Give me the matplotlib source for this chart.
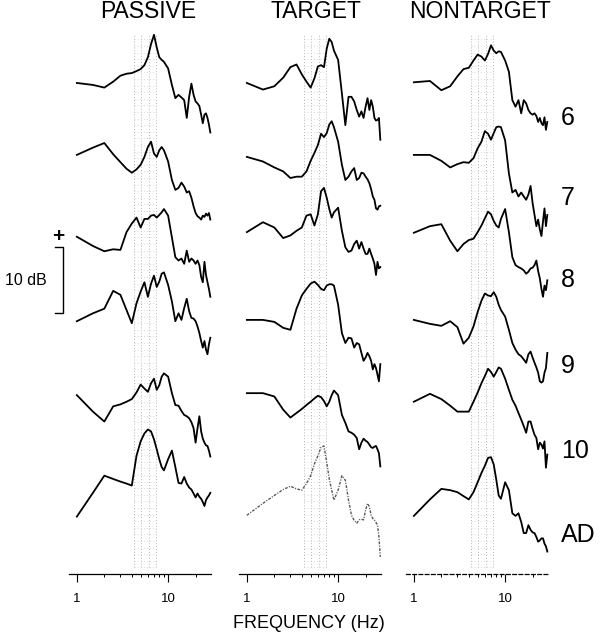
# --- spectra panels: passive / target / nontarget ---
import matplotlib.pyplot as plt
import matplotlib.transforms as mtransforms
from matplotlib.ticker import FixedLocator, FixedFormatter, NullFormatter
import numpy as np

plt.rcParams['font.family'] = ['Liberation Sans', 'DejaVu Sans']

# frequency grid (Hz)
freqs = [1, 1.5, 2, 2.5, 3, 3.5, 4, 4.5, 5, 5.5, 6, 6.5, 7, 7.5, 8, 8.5, 9,
         10, 11, 12, 13, 14, 15, 16, 17, 18, 19, 20, 21, 22, 23, 24, 25, 26, 27, 28, 29]

# relative power (dB)
pas_6 = [5.3, 5.0, 4.6, 5.5, 6.4, 6.7, 6.8, 7.1, 7.4, 8.0, 9.2, 11.2, 12.6, 10.7, 9.2, 8.8, 8.5,
         7.5, 5.0, 3.0, 3.5, 3.1, 2.7, 0.0, 3.2, 5.2, 3.5, 2.5, 2.2, 1.8, 0.5, -0.8, 0.5, 0.7, 0.0, -1.0, -2.2]
pas_7 = [6.5, 7.6, 8.3, 6.6, 5.4, 4.4, 3.8, 4.3, 5.0, 6.2, 7.7, 8.5, 6.7, 6.2, 7.2, 7.7, 7.2,
         5.5, 2.7, 1.2, 1.5, 2.3, 1.7, 0.8, 1.0, 0.0, -1.3, -2.3, -2.8, -3.0, -3.3, -2.7, -2.9, -2.4, -2.7, -2.3, -3.3]
pas_8 = [6.6, 5.2, 4.4, 4.7, 4.6, 7.3, 8.6, 9.5, 8.0, 9.3, 9.3, 9.8, 9.9, 9.5, 9.9, 10.3, 10.8,
         9.8, 6.5, 3.5, 3.0, 3.3, 2.5, 4.5, 2.8, 3.3, 3.0, 2.5, 3.0, 2.3, 0.5, -0.3, 2.8, 0.8, -0.3, -1.3, -2.5]
pas_9 = [6.8, 8.0, 8.7, 11.4, 10.8, 8.5, 6.5, 9.5, 11.3, 12.7, 10.5, 12.5, 13.7, 12.0, 12.8, 14.0, 14.2,
         12.3, 9.8, 6.8, 8.0, 7.0, 8.8, 10.2, 8.3, 7.3, 7.2, 6.8, 6.0, 5.0, 3.8, 2.8, 3.8, 2.5, 1.8, 3.3, 4.3]
pas_10 = [8.5, 6.0, 4.5, 6.8, 7.1, 7.5, 7.9, 8.9, 10.1, 9.5, 9.0, 10.3, 11.0, 9.3, 10.0, 11.3, 11.8,
          11.3, 8.8, 7.0, 6.9, 6.1, 5.5, 5.3, 5.0, 4.4, 3.5, 1.3, 3.5, 5.3, 3.0, 1.9, 1.3, 0.9, 0.8, 0.1, -0.8]
pas_ad = [2.8, 6.4, 9.0, 8.5, 8.1, 7.8, 7.5, 12.0, 14.2, 15.4, 16.0, 15.7, 14.5, 13.0, 11.5, 10.3, 9.8,
          11.5, 12.8, 10.3, 7.9, 7.8, 8.8, 7.8, 7.2, 6.9, 6.3, 5.7, 6.3, 5.8, 5.5, 5.0, 4.4, 5.3, 5.7, 6.0, 6.4]

tgt_6 = [5.3, 4.3, 4.8, 6.1, 7.7, 8.1, 6.6, 5.5, 4.6, 6.0, 7.8, 8.0, 7.7, 10.5, 12.0, 11.5, 10.2,
         8.8, 3.7, -1.1, 3.2, 3.2, 2.5, 1.2, 0.2, 1.0, 0.0, 1.7, 3.0, 1.2, 2.7, 1.7, 0.0, -0.4, -0.3, 0.0, -3.3]
tgt_7 = [6.2, 5.5, 4.6, 4.0, 3.0, 3.2, 3.2, 4.0, 5.6, 6.8, 8.0, 9.7, 9.2, 9.8, 11.1, 11.6, 10.7,
         8.5, 5.0, 2.7, 3.2, 4.0, 4.5, 2.7, 3.0, 3.8, 3.7, 3.2, 2.8, 2.2, 1.3, 0.2, -0.3, -1.6, -1.8, -1.3, -1.2]
tgt_8 = [7.3, 8.8, 8.0, 6.4, 6.8, 7.5, 8.0, 9.8, 10.0, 8.3, 10.0, 13.5, 14.0, 12.5, 10.8, 9.5, 10.3,
         11.0, 7.5, 5.0, 4.3, 4.5, 5.5, 6.0, 4.8, 5.8, 4.8, 4.0, 4.0, 4.8, 4.0, 3.3, 2.5, 0.8, 2.8, 1.8, 2.0]
tgt_9 = [7.0, 7.0, 6.7, 5.8, 5.5, 8.7, 10.7, 11.7, 12.5, 12.8, 12.3, 11.7, 11.5, 12.2, 12.4, 12.4, 12.2,
         9.3, 5.0, 3.5, 4.3, 4.2, 2.8, 3.5, 3.3, 2.0, 0.8, 1.3, 2.0, 1.5, 0.8, -0.5, 0.3, -0.3, -1.3, -2.3, 0.3]
tgt_10 = [8.8, 8.8, 8.3, 6.3, 5.1, 5.8, 6.4, 7.0, 7.5, 8.0, 8.4, 8.2, 7.6, 6.8, 7.5, 8.5, 9.2,
          8.5, 5.5, 4.3, 3.0, 2.8, 2.5, 2.0, 0.3, 1.3, 1.9, 1.6, 1.4, 1.0, 0.6, 0.5, 0.7, 0.8, 0.3, -0.3, -2.3]
tgt_ad = [3.0, 4.8, 6.0, 6.9, 7.4, 7.0, 6.8, 7.8, 9.0, 10.8, 12.0, 13.3, 13.5, 11.0, 8.5, 6.8, 5.3,
          6.8, 9.0, 8.3, 5.3, 3.0, 2.2, 1.8, 2.3, 2.4, 2.3, 3.8, 4.8, 4.3, 3.0, 2.5, 2.3, 1.9, 1.5, -0.3, -3.3]

nt_6 = [5.4, 5.6, 4.2, 4.8, 6.3, 7.4, 7.6, 8.7, 9.6, 9.3, 8.7, 9.7, 11.0, 10.2, 9.8, 10.1, 10.0,
        8.7, 7.0, 2.7, 1.7, 2.7, 0.7, 2.7, 2.2, 1.2, 0.7, 0.5, 0.7, 0.3, -0.6, 0.0, -0.8, -1.1, 0.1, -1.8, -0.6]
nt_7 = [6.5, 6.5, 5.6, 4.6, 5.1, 5.4, 5.3, 6.0, 7.5, 8.5, 10.1, 9.7, 8.8, 9.8, 10.7, 10.8, 10.7,
        8.7, 3.7, 0.8, 1.2, 0.2, 0.8, 0.2, -0.3, 0.5, 1.8, -0.8, -2.6, -4.3, -3.3, -4.8, -5.8, -3.6, -1.6, -4.3, -2.6]
nt_8 = [7.2, 8.2, 8.5, 6.0, 4.4, 5.5, 6.1, 6.3, 7.3, 8.3, 9.4, 10.4, 10.0, 9.0, 8.3, 8.0, 9.3,
        10.8, 7.3, 3.5, 2.3, 2.0, 1.8, 1.5, 1.0, 1.3, 1.8, 1.9, 2.3, 3.0, 1.4, 0.3, -1.3, -2.5, -0.8, -1.5, 0.0]
nt_9 = [7.0, 6.4, 6.1, 6.8, 5.9, 3.4, 4.3, 6.0, 8.2, 9.9, 11.0, 10.7, 10.6, 11.2, 10.5, 9.3, 8.5,
        7.5, 5.5, 3.5, 2.5, 1.8, 1.5, 1.0, 0.5, 1.8, 2.2, 1.3, 0.5, -0.2, -1.0, -2.3, -2.5, -2.3, -1.0, -0.3, 2.0]
nt_10 = [7.5, 8.7, 7.9, 6.9, 6.0, 6.0, 6.0, 7.5, 8.9, 10.3, 11.4, 12.5, 12.0, 11.3, 12.0, 12.7, 12.5,
         11.0, 9.3, 7.8, 6.9, 5.8, 4.8, 3.8, 2.8, 4.5, 4.5, 3.4, 2.5, 2.0, 0.3, 1.3, 1.0, 0.4, 1.5, -2.5, -0.5]
nt_ad = [2.9, 5.4, 7.0, 6.8, 6.5, 5.9, 5.4, 6.5, 8.0, 9.4, 10.5, 11.7, 11.8, 10.7, 8.4, 6.0, 5.5,
         8.0, 6.8, 3.3, 2.9, 3.3, 2.0, 0.3, 0.3, 1.5, 0.8, 0.4, 0.3, -0.3, -1.0, -0.8, -0.5, -0.5, -1.3, -1.7, -2.5]

titles = ['PASSIVE', 'TARGET', 'NONTARGET']
row_labels = ['6', '7', '8', '9', '10', 'AD']
band_lines = [4.2, 5.1, 6.1, 7.4]   # dotted band (Hz)

columns = [[pas_6, pas_7, pas_8, pas_9, pas_10, pas_ad],
           [tgt_6, tgt_7, tgt_8, tgt_9, tgt_10, tgt_ad],
           [nt_6, nt_7, nt_8, nt_9, nt_10, nt_ad]]

# layout (pixels of a 600x643 figure, 6.6 px per dB)
W, H = 600, 643
px_db = 6.6
offsets = [69.1, 57.0, 44.5, 31.5, 18.6, 5.9]
lefts = [69, 239, 406]
ax_w = 142
ax_bottom, ax_top = 574, 30

fig = plt.figure(figsize=(W / 100, H / 100), dpi=100)
axes = []
for c in range(3):
    ax = fig.add_axes([lefts[c] / W, (H - ax_bottom) / H, ax_w / W, (ax_bottom - ax_top) / H])
    ax.set_xscale('log')
    ax.set_xlim(0.82, 29.5)
    ax.set_ylim(0, (ax_bottom - ax_top) / px_db)
    ax.patch.set_alpha(0)
    for s in ['left', 'right', 'top']:
        ax.spines[s].set_visible(False)
    ax.yaxis.set_visible(False)
    ax.spines['bottom'].set_linewidth(0.9)
    ax.xaxis.set_major_locator(FixedLocator([1, 10]))
    ax.xaxis.set_major_formatter(FixedFormatter(['1', '10']))
    ax.xaxis.set_minor_locator(FixedLocator([2, 3, 4, 5, 6, 7, 8, 9, 20]))
    ax.xaxis.set_minor_formatter(NullFormatter())
    ax.tick_params(axis='x', which='major', direction='out', length=6, width=0.8,
                   labelsize=9.5, pad=8)
    ax.tick_params(axis='x', which='minor', direction='out', length=2.5, width=0.7)

    # dotted frequency band
    ax.vlines(band_lines, 1.0, 81.7, colors='0.62', linestyles=(0, (1, 2.5)), lw=0.6)
    ax.hlines(np.arange(1.0, 81.7, 1.0), band_lines[0], band_lines[-1],
              colors='0.8', linestyles=(0, (1.5, 3)), lw=0.5)

    for r, vals in enumerate(columns[c]):
        y = np.array(vals) + offsets[r]
        if c == 1 and r == 5:
            ax.plot(freqs, y, color='0.35', lw=1.0, linestyle=(0, (2, 1, 0.8, 1)), clip_on=False)
        else:
            ax.plot(freqs, y, color='black', lw=1.3, clip_on=False)
    axes.append(ax)

axes[2].spines['bottom'].set_linestyle((0, (3, 2)))

# column titles
title_x = [148, 316, 480]
for c in range(3):
    fig.text(title_x[c] / W, 1 - 11.5 / H, titles[c], ha='center', va='center', fontsize=16.5)

# row labels on the right
tr = mtransforms.blended_transform_factory(fig.transFigure, axes[2].transData)
for r, lab in enumerate(row_labels):
    axes[2].text(561 / W, offsets[r], lab, transform=tr, ha='left', va='center',
                 fontsize=18, clip_on=False)

# 10 dB scale bar
tr1 = mtransforms.blended_transform_factory(fig.transFigure, axes[0].transData)
bar_top, bar_len = 49.5, 10
axes[0].plot([55 / W, 63 / W, 63 / W, 55 / W], [bar_top, bar_top, bar_top - bar_len, bar_top - bar_len],
             color='black', lw=1.0, transform=tr1, clip_on=False)
axes[0].text(58 / W, bar_top + 1.6, '+', transform=tr1, ha='center', va='center',
             fontsize=15, fontweight='bold', clip_on=False)
axes[0].text(26 / W, bar_top - bar_len / 2, '10 dB', transform=tr1, ha='center', va='center',
             fontsize=11.5, clip_on=False)

fig.text(309 / W, 1 - 623 / H, 'FREQUENCY (Hz)', ha='center', va='center', fontsize=13)

fig.savefig('out.png', dpi=100)
